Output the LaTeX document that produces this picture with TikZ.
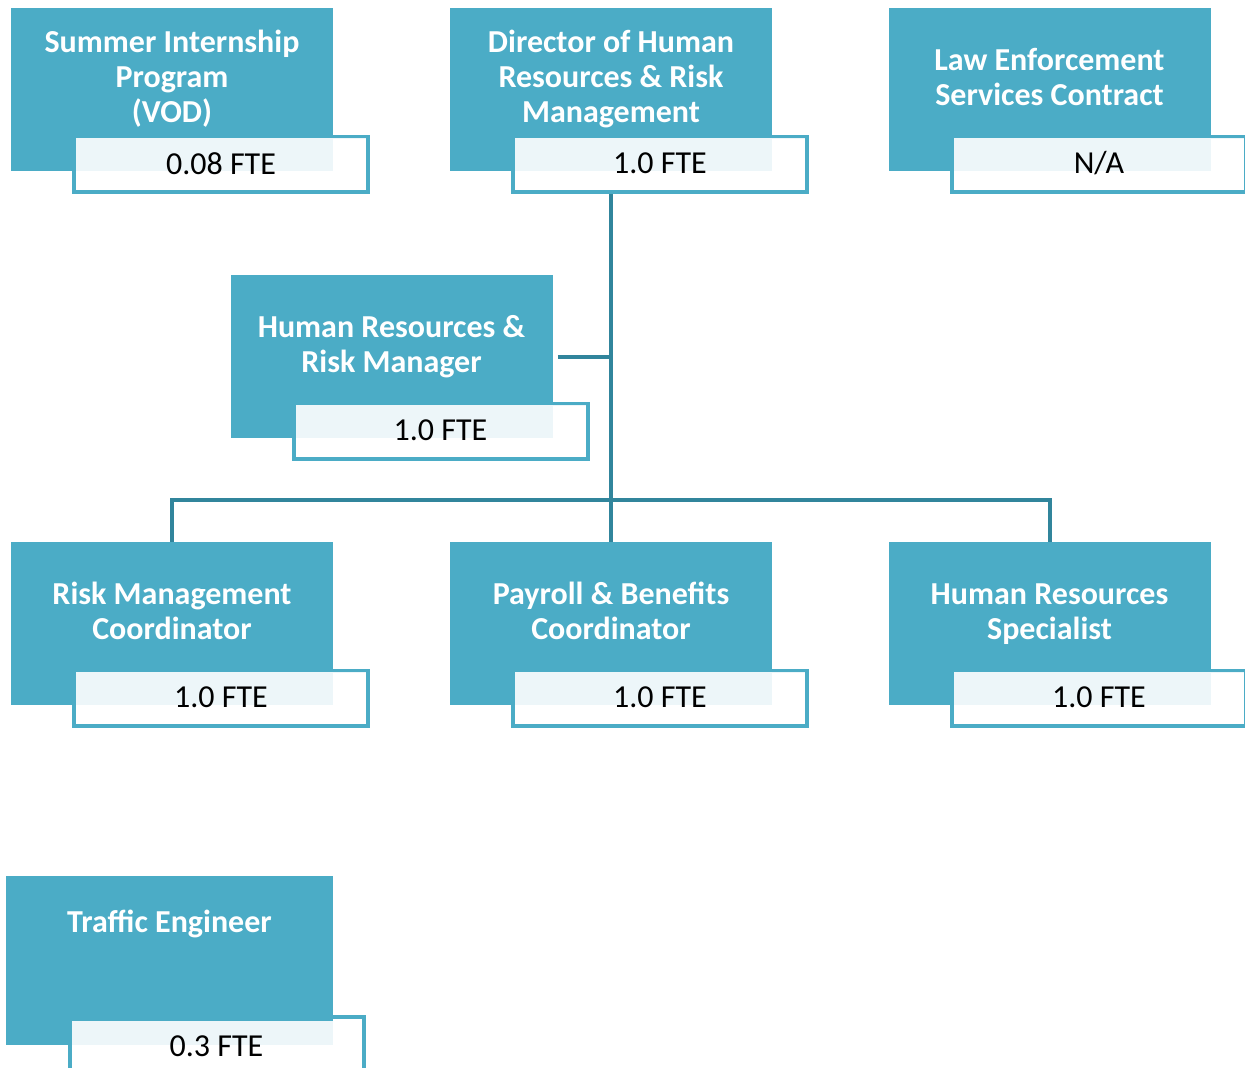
\documentclass[tikz,border=0pt]{standalone}
\usepackage{fontspec}
\setmainfont{Carlito}
\definecolor{boxblue}{HTML}{4BACC6}
\definecolor{linkblue}{HTML}{31859C}

\begin{document}
\begin{tikzpicture}[x=0.75pt,y=-0.75pt,
unit/.style={fill=boxblue,minimum width=241.5pt,minimum height=122.25pt,inner sep=0pt},
ttl/.style={text=white,font=\bfseries\fontsize{24}{26.25}\selectfont,align=center},
fte/.style={draw=boxblue,line width=3pt,fill=white,minimum width=220.5pt,minimum height=41.25pt,inner sep=0pt},
ftetxt/.style={fill=white,fill opacity=0.9,text opacity=1,minimum width=217.5pt,minimum height=38.25pt,inner sep=0pt,font=\fontsize{24}{26}\selectfont},
link/.style={draw=linkblue,line width=3pt}]
\useasboundingbox (0,0) rectangle (1245,1067);

% top row
\node[fte](f1)at(221,164.5){};
\node[unit](u1)at(172,89.5){};
\node[ftetxt](n1)at(221,163.5){0.08 FTE};
\node[ttl](t1)at(172,79){Summer Internship\\Program\\(VOD)};

\node[fte](f2)at(660,164.5){};
\node[unit](u2)at(611,89.5){};
\node[ftetxt](n2)at(660,163.5){1.0 FTE};
\node[ttl](t2)at(611,79){Director of Human\\Resources \& Risk\\Management};

\node[fte](f3)at(1099,164.5){};
\node[unit](u3)at(1049.5,89.5){};
\node[ftetxt](n3)at(1099,163.5){N/A};
\node[ttl](t3)at(1049.5,77){Law Enforcement\\Services Contract};

% manager
\node[fte](f4)at(440.5,431.5){};
\node[unit](u4)at(391.5,356.5){};
\node[ftetxt](n4)at(440.5,430.5){1.0 FTE};
\node[ttl](t4)at(391.5,347){Human Resources \&\\Risk Manager};

% staff row
\node[fte](f5)at(221,698.5){};
\node[unit](u5)at(172,623.5){};
\node[ftetxt](n5)at(221,697.5){1.0 FTE};
\node[ttl](t5)at(172,611){Risk Management\\Coordinator};

\node[fte](f6)at(660,698.5){};
\node[unit](u6)at(611,623.5){};
\node[ftetxt](n6)at(660,697.5){1.0 FTE};
\node[ttl](t6)at(611,611){Payroll \& Benefits\\Coordinator};

\node[fte](f7)at(1099,698.5){};
\node[unit](u7)at(1049.5,623.5){};
\node[ftetxt](n7)at(1099,697.5){1.0 FTE};
\node[ttl](t7)at(1049.5,614){Human Resources\\Specialist};

% traffic
\node[fte](f8)at(216.5,1044.5){};
\node[unit,minimum width=245.25pt,minimum height=126.75pt](u8)at(169.5,960.5){};
\node[ftetxt](n8)at(216.5,1046){0.3 FTE};
\node[ttl](t8)at(169.5,924){Traffic Engineer};

% lines
\coordinate(bus)at(610,500);
\draw[link](u2.south |- f2.south)--(u6.north);
\draw[link]([xshift=3.75pt]u4.east)--(u4.east -| u2.south);
\draw[link](u5.north)|-(bus)-|(u7.north);

\end{tikzpicture}
\end{document}
